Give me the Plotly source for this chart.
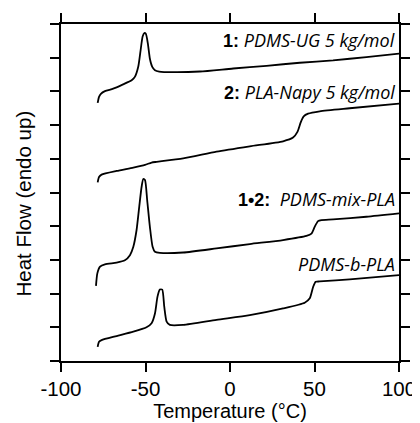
import plotly.graph_objects as go

# DSC traces (temperature in °C, heat flow in offset units)
t_ug = [-78.3, -77.5, -76.4, -74.0, -69.1, -63.2, -58.2, -56.3, -54.3, -52.9, -51.7, -50.7,
        -49.8, -48.6, -47.4, -46.0, -44.4, -41.9, -33.6, -17.8, 1.9, 21.6, 41.3, 61.0, 80.7, 100]
hf_ug = [7.66, 7.84, 7.93, 8.01, 8.08, 8.21, 8.33, 8.43, 8.73, 9.22, 9.63, 9.73,
         9.71, 9.42, 8.97, 8.73, 8.63, 8.59, 8.57, 8.59, 8.68, 8.76, 8.85, 8.92, 9.02, 9.12]

t_napy = [-78.3, -77.5, -76.0, -67.1, -57.2, -50.3, -46.4, -43.4, -27.7, -8.0, 11.7, 31.4,
          37.3, 39.9, 41.9, 43.6, 46.2, 53.1, 70.8, 100]
hf_napy = [5.30, 5.46, 5.53, 5.64, 5.74, 5.82, 5.89, 5.91, 6.01, 6.21, 6.37, 6.52,
           6.63, 6.80, 7.09, 7.26, 7.34, 7.41, 7.50, 7.64]

t_mix = [-79.3, -78.5, -76.9, -74.0, -67.1, -62.2, -59.2, -57.2, -55.3, -53.7, -52.3, -51.3,
         -50.3, -49.0, -47.4, -45.8, -44.4, -41.5, -27.7, -8.0, 11.7, 31.4, 45.2, 48.2,
         50.1, 52.1, 54.1, 61.0, 80.7, 100]
hf_mix = [2.23, 2.60, 2.80, 2.87, 2.92, 2.99, 3.14, 3.39, 3.88, 4.58, 5.17, 5.40,
          5.37, 4.77, 3.98, 3.39, 3.24, 3.21, 3.22, 3.34, 3.47, 3.59, 3.71, 3.78,
          3.98, 4.15, 4.18, 4.20, 4.28, 4.38]

t_block = [-78.3, -77.5, -76.0, -67.1, -57.2, -49.4, -46.4, -44.4, -42.9, -41.5, -40.1, -38.9,
           -37.5, -35.6, -27.7, -8.0, 11.7, 31.4, 44.2, 47.2, 49.2, 50.7, 53.1, 70.8, 100]
hf_block = [0.42, 0.57, 0.62, 0.74, 0.87, 1.00, 1.12, 1.41, 1.91, 2.12, 2.12, 1.61,
            1.17, 1.07, 1.07, 1.22, 1.36, 1.56, 1.73, 1.86, 2.20, 2.35, 2.36, 2.42, 2.55]

x_ticks = [-100, -50, 0, 50, 100]
x_ticktext = ['-100', '-50', '0', '50', '100']

series = [(t_ug, hf_ug), (t_napy, hf_napy), (t_mix, hf_mix), (t_block, hf_block)]

fig = go.Figure()
for t, hf in series:
    fig.add_trace(go.Scatter(
        x=t, y=hf, mode='lines',
        line=dict(color='black', width=1.8, shape='spline', smoothing=0.6),
        showlegend=False, hoverinfo='skip'
    ))

bold = "<span style='font-family:Liberation Sans'><b>%s</b></span>"
labels = [
    (bold % "1:" + " <i>PDMS-UG 5 kg/mol</i>", 40.5),
    (bold % "2:" + " <i>PLA-Napy 5 kg/mol</i>", 92),
    (bold % "1•2:" + "  <i>PDMS-mix-PLA</i>", 199),
    ("<i>PDMS-b-PLA</i>", 264),
]
for text, py in labels:
    fig.add_annotation(
        x=1, xref='paper', xanchor='right', xshift=-2,
        y=(361 - py) / 337, yref='paper', yanchor='middle',
        text=text, showarrow=False,
        font=dict(family='Open Sans', size=18, color='black')
    )

fig.add_annotation(
    x=-38 / 338, xref='paper', xanchor='center',
    y=(361 - 203.5) / 337, yref='paper', yanchor='middle',
    text='Heat Flow (endo up)', textangle=-90, showarrow=False,
    font=dict(family='Liberation Sans', size=20.5, color='black')
)

# the page body adds an 8px margin, so the figure is 8px smaller on each side
fig.update_layout(
    width=412, height=415,
    margin=dict(l=53, r=21, t=16, b=62),
    paper_bgcolor='white', plot_bgcolor='white',
    font=dict(family='Liberation Sans', size=20.5, color='black'),
    xaxis=dict(
        range=[-100, 100], tickvals=x_ticks, ticktext=x_ticktext,
        ticks='outside', ticklen=9, automargin=False,
        tickwidth=1.5, tickcolor='black', showline=True, linewidth=1.5,
        linecolor='black', mirror='ticks', showgrid=False, zeroline=False,
        title=dict(text='Temperature (°C)', standoff=2,
                   font=dict(family='Liberation Sans', size=20))
    ),
    yaxis=dict(
        range=[0, 10], dtick=1, tick0=0, ticks='outside', ticklen=9,
        automargin=False,
        tickwidth=1.5, tickcolor='black', showline=True, linewidth=1.5,
        linecolor='black', mirror='ticks', showgrid=False, zeroline=False,
        showticklabels=False
    )
)

fig.write_html("out.html")
